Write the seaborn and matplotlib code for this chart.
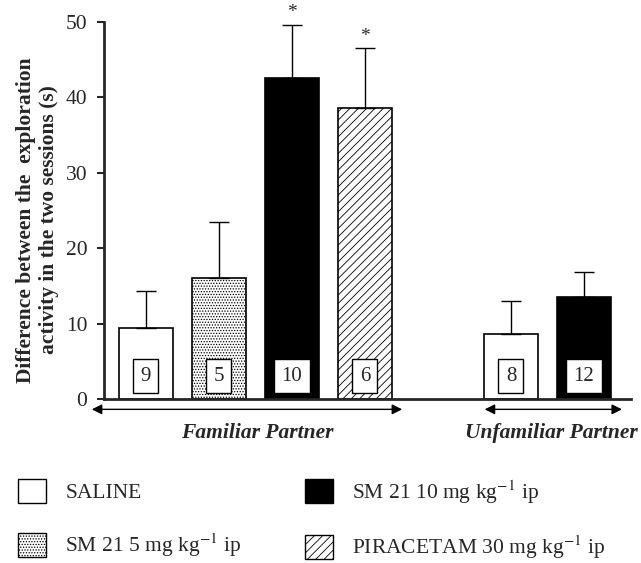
import pandas as pd
import seaborn as sns
import matplotlib.pyplot as plt
from matplotlib.patches import Patch

# data
slots = ["F-SAL", "F-SM5", "F-SM10", "F-PIR", "gap", "U-SAL", "U-SM10"]
bar_slots = ["F-SAL", "F-SM5", "F-SM10", "F-PIR", "U-SAL", "U-SM10"]
treatments = ["SALINE", "SM5", "SM10", "PIR", "SALINE", "SM10"]
means = [9.4, 16.0, 42.6, 38.6, 8.6, 13.5]
sems = [4.9, 7.5, 7.0, 7.9, 4.4, 3.3]
n_labels = ["9", "5", "10", "6", "8", "12"]
signif = ["", "", "*", "*", "", ""]
group_names = ["Familiar Partner", "Unfamiliar Partner"]
legend_labels = ["SALINE", "SM 21 5 mg kg$^{-1}$ ip",
                 "SM 21 10 mg kg$^{-1}$ ip", "PIRACETAM 30 mg kg$^{-1}$ ip"]
legend_keys = ["SALINE", "SM5", "SM10", "PIR"]

fills = {"SALINE": "white", "SM5": "white", "SM10": "black", "PIR": "white"}
hatches = {"SALINE": "", "SM5": "......", "SM10": "", "PIR": "////"}

sns.set_style("ticks")
plt.rcParams["font.family"] = ["Liberation Serif", "DejaVu Serif"]
plt.rcParams["mathtext.fontset"] = "stix"
plt.rcParams["hatch.linewidth"] = 0.6

df = pd.DataFrame({"slot": bar_slots, "value": means})

fig = plt.figure(figsize=(6.41, 5.63), dpi=100)
ax = fig.add_axes([0.162, 0.291, 0.822, 0.670])
sns.barplot(data=df, x="slot", y="value", order=slots, width=0.74,
            errorbar=None, ax=ax, color="white")

xs = []
for p, t in zip(ax.patches, treatments):
    p.set_facecolor(fills[t])
    p.set_edgecolor("black")
    p.set_linewidth(1.2)
    p.set_hatch(hatches[t])
    xs.append(p.get_x() + p.get_width() / 2)

ax.errorbar(xs, means, yerr=[[0] * len(sems), sems], fmt="none",
            ecolor="black", elinewidth=1, capsize=7, capthick=1, zorder=1)

for x, n, m, s, star in zip(xs, n_labels, means, sems, signif):
    ax.text(x, 3.05, n, ha="center", va="center", fontsize=15,
            bbox=dict(boxstyle="square,pad=0.35", fc="white", ec="black", lw=1))
    if star:
        ax.text(x, m + s + 1.0, star, ha="center", va="baseline",
                fontsize=14, clip_on=False)

ax.set_ylim(0, 50)
ax.set_xlim(-0.575, 6.64)
ax.set_yticks([0, 10, 20, 30, 40, 50])
ax.tick_params(axis="y", labelsize=15.5, length=5, width=1.5, pad=7)
ax.tick_params(axis="x", length=0, labelbottom=False)
ax.set_xlabel("")
ax.set_ylabel("Difference between the  exploration\nactivity in the two sessions (s)",
              fontsize=15.5, fontweight="bold", linespacing=1.15)
ax.yaxis.set_label_coords(-0.086, 0.475)
sns.despine(ax=ax)
ax.spines["left"].set_linewidth(2)
ax.spines["bottom"].set_linewidth(2)

# group arrows and names
for (x0, x1, xc), name in zip([(-0.74, 3.51, 1.52), (4.64, 6.52, 5.56)], group_names):
    ax.annotate("", xy=(x1, -1.35), xytext=(x0, -1.35), xycoords="data",
                annotation_clip=False,
                arrowprops=dict(arrowstyle="<|-|>", color="black", lw=1,
                                mutation_scale=15, shrinkA=0, shrinkB=0))
    ax.text(xc, -4.5, name, ha="center", va="center", fontsize=15.5,
            fontweight="bold", fontstyle="italic", clip_on=False)

handles = [Patch(facecolor=fills[k], edgecolor="black", hatch=hatches[k], lw=1)
           for k in legend_keys]
fig.legend(handles, legend_labels, ncol=2, loc="upper left",
           bbox_to_anchor=(18 / 641, 1 - 478 / 563), frameon=False,
           fontsize=15.5, handlelength=1.3, handleheight=1.35, handletextpad=0.9,
           labelspacing=1.3, columnspacing=2.93, borderpad=0, borderaxespad=0)

plt.savefig("out.png", dpi=100)
